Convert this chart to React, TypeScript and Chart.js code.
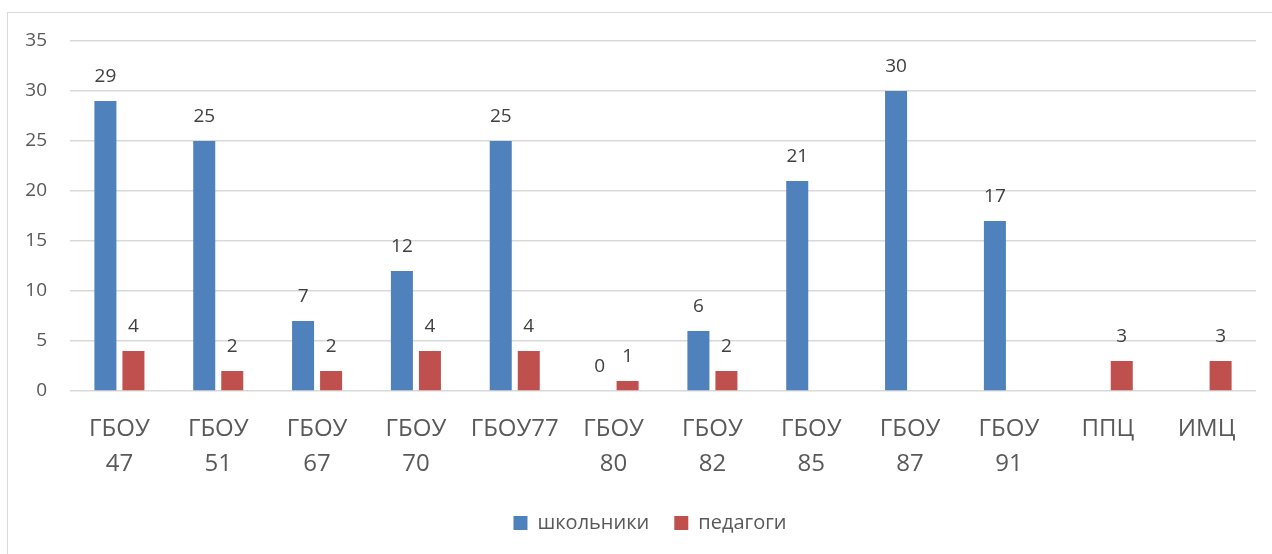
import React, { useEffect, useRef } from "react";
import { Chart, registerables } from "chart.js";

Chart.register(...registerables);

const categories: (string | string[])[] = [
  ["ГБОУ", "47"],
  ["ГБОУ", "51"],
  ["ГБОУ", "67"],
  ["ГБОУ", "70"],
  "ГБОУ77",
  ["ГБОУ", "80"],
  ["ГБОУ", "82"],
  ["ГБОУ", "85"],
  ["ГБОУ", "87"],
  ["ГБОУ", "91"],
  "ППЦ",
  "ИМЦ",
];
const students: (number | null)[] = [29, 25, 7, 12, 25, 0, 6, 21, 30, 17, null, null];
const teachers: (number | null)[] = [4, 2, 2, 4, 4, 1, 2, null, null, null, 3, 3];
const seriesNames = ["школьники", "педагоги"];
const yTicks = [0, 5, 10, 15, 20, 25, 30, 35];

const FONT = "'Open Sans', 'Noto Sans', sans-serif";

const dataLabels = {
  id: "dataLabels",
  afterDatasetsDraw(chart: any) {
    const ctx = chart.ctx;
    ctx.save();
    ctx.font = `19px ${FONT}`;
    ctx.fillStyle = "#404040";
    ctx.textAlign = "center";
    ctx.textBaseline = "middle";
    chart.data.datasets.forEach((ds: any, i: number) => {
      const meta = chart.getDatasetMeta(i);
      meta.data.forEach((el: any, j: number) => {
        const v = ds.data[j];
        if (v === null || v === undefined) return;
        ctx.fillText(String(v), el.x, el.y - 24);
      });
    });
    ctx.restore();
  },
};

const legendShift = {
  id: "legendShift",
  afterLayout(chart: any) {
    if (chart.legend) chart.legend.left = 44;
  },
};

export default function App() {
  const ref = useRef<HTMLCanvasElement>(null);
  useEffect(() => {
    if (!ref.current) return;
    const chart = new Chart(ref.current, {
      type: "bar",
      data: {
        labels: categories as any,
        datasets: [
          {
            label: seriesNames[0],
            data: students,
            backgroundColor: "#4F81BD",
            barPercentage: 0.786,
            categoryPercentage: 0.567,
          },
          {
            label: seriesNames[1],
            data: teachers,
            backgroundColor: "#C0504D",
            barPercentage: 0.786,
            categoryPercentage: 0.567,
          },
        ],
      },
      options: {
        animation: false,
        responsive: false,
        layout: { padding: { top: 41, left: 0, right: 16, bottom: 11 } },
        plugins: {
          legend: {
            position: "bottom",
            labels: {
              boxWidth: 14,
              boxHeight: 14,
              padding: 25,
              color: "#595959",
              font: { family: FONT, size: 20, lineHeight: 1.2 },
            },
          },
          tooltip: { enabled: false },
        },
        scales: {
          x: {
            grid: { display: false, drawTicks: false },
            border: { display: false },
            ticks: {
              color: "#595959",
              font: { family: FONT, size: 24, lineHeight: 35 / 24 },
              padding: 21,
              maxRotation: 0,
              autoSkip: false,
            },
            afterFit: (s: any) => {
              s.height = 97;
            },
          },
          y: {
            min: 0,
            max: 35,
            afterBuildTicks: (s: any) => {
              s.ticks = yTicks.map((v) => ({ value: v }));
            },
            grid: { color: "#d9d9d9", lineWidth: 1.5, drawTicks: false },
            border: { display: false },
            ticks: {
              color: "#595959",
              font: { family: FONT, size: 19 },
              padding: 23,
            },
            afterFit: (s: any) => {
              s.width = 70;
            },
          },
        },
      },
      plugins: [dataLabels, legendShift],
    });
    return () => chart.destroy();
  }, []);
  return (
    <div style={{ position: "absolute", left: 0, top: 0, width: 1272, height: 554, background: "#fff", overflow: "hidden" }}>
      <div
        style={{
          position: "absolute",
          left: 7,
          top: 12,
          width: 1300,
          height: 600,
          borderLeft: "1.5px solid #d9d9d9",
          borderTop: "1.5px solid #d9d9d9",
        }}
      />
      <canvas ref={ref} width={1272} height={554} style={{ position: "absolute", left: 0, top: 0 }} />
    </div>
  );
}
